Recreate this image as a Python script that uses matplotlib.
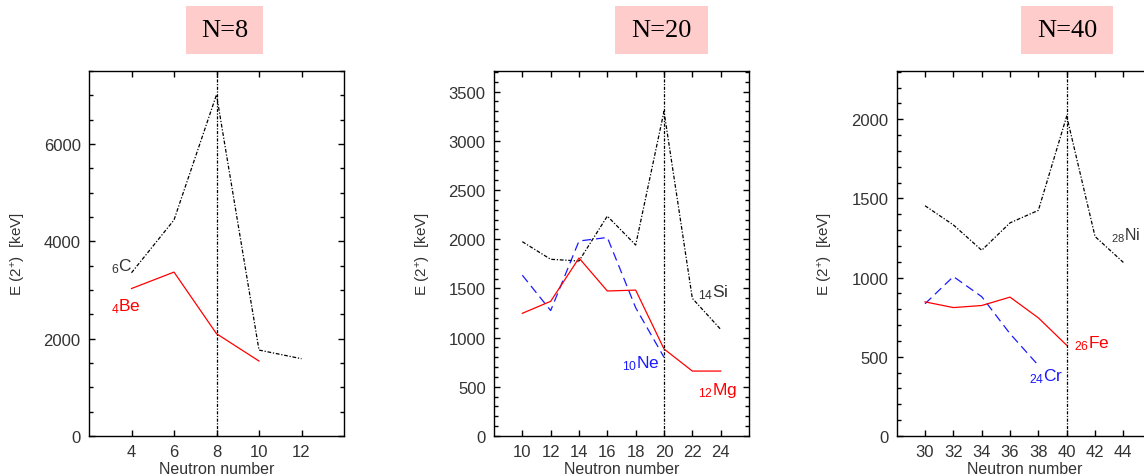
import matplotlib
matplotlib.use("Agg")
import matplotlib.pyplot as plt
from matplotlib.patches import Rectangle
from matplotlib.ticker import MultipleLocator

plt.rcParams['font.family'] = ['Liberation Sans', 'DejaVu Sans']
plt.rcParams['mathtext.fontset'] = 'custom'
plt.rcParams['mathtext.rm'] = 'Liberation Sans'
plt.rcParams['mathtext.it'] = 'Liberation Sans'
plt.rcParams['mathtext.bf'] = 'Liberation Sans'

# ---- data ----
titles = ["N=8", "N=20", "N=40"]
magic = [8, 20, 40]

# N=8 panel
n_c = [4, 6, 8, 10, 12]
e_c = [3354, 4439, 7012, 1766, 1588]
n_be = [4, 6, 8, 10]
e_be = [3030, 3368, 2102, 1540]

# N=20 panel
n_si = [10, 12, 14, 16, 18, 20, 22, 24]
e_si = [1975, 1796, 1779, 2235, 1941, 3300, 1399, 1084]
n_ne = [10, 12, 14, 16, 18, 20]
e_ne = [1634, 1275, 1982, 2018, 1304, 800]
n_mg = [10, 12, 14, 16, 18, 20, 22, 24]
e_mg = [1247, 1369, 1809, 1474, 1483, 885, 660, 660]

# N=40 panel
n_ni = [30, 32, 34, 36, 38, 40, 42, 44]
e_ni = [1454, 1333, 1173, 1346, 1425, 2020, 1260, 1096]
n_fe = [30, 32, 34, 36, 38, 40]
e_fe = [847, 811, 824, 877, 746, 573]
n_cr = [30, 32, 34, 36, 38]
e_cr = [835, 1007, 880, 646, 446]

W, H = 1144, 477
fig = plt.figure(figsize=(W / 100, H / 100), dpi=100)

def px_axes(left, right, top=72, bottom=437):
    return fig.add_axes([left / W, (H - bottom) / H, (right - left) / W, (bottom - top) / H])

ax1 = px_axes(89, 344)
ax2 = px_axes(494, 749)
ax3 = px_axes(896.7, 1151.7)

black_ls = (0, (3, 1.4, 1, 1.4))
vert_ls = (0, (2.5, 1.2, 1, 1.2))
blue_ls = (0, (7, 4))

tick_col = '#333333'
lab_fs = 12.5

def style(ax, xlim, ylim, xticks, ymajor, yminor):
    ax.set_xlim(*xlim)
    ax.set_ylim(*ylim)
    ax.set_xticks(xticks)
    ax.yaxis.set_major_locator(MultipleLocator(ymajor))
    ax.yaxis.set_minor_locator(MultipleLocator(yminor))
    ax.tick_params(axis='both', which='both', direction='in', top=True, right=True,
                   labelsize=12, labelcolor=tick_col, width=1)
    ax.tick_params(axis='both', which='major', length=4, pad=6)
    ax.tick_params(axis='both', which='minor', length=3)
    for s in ax.spines.values():
        s.set_linewidth(1)
    ax.set_xlabel("Neutron number", fontsize=11.5, color=tick_col, va='center')
    ax.xaxis.set_label_coords(0.5, -0.088)
    ax.set_ylabel(r"E (2$^{+}$)  [keV]", fontsize=11, color=tick_col, va='center')
    ax.yaxis.set_label_coords(-0.278, 0.5)

# Panel 1
ax1.plot(n_c, e_c, color='black', lw=0.9, linestyle=black_ls)
ax1.plot(n_be, e_be, color='red', lw=0.9)
ax1.axvline(magic[0], color='black', lw=0.9, linestyle=vert_ls)
style(ax1, (2, 14), (0, 7500), [4, 6, 8, 10, 12], 2000, 500)
ax1.text(3.05, 3400, r"$_{6}$C", color='#333333', fontsize=lab_fs)
ax1.text(3.05, 2580, r"$_{4}$Be", color='red', fontsize=lab_fs)

# Panel 2
ax2.plot(n_si, e_si, color='black', lw=0.9, linestyle=black_ls)
ax2.plot(n_ne, e_ne, color='#1a1aff', lw=0.9, linestyle=blue_ls)
ax2.plot(n_mg, e_mg, color='red', lw=0.9)
ax2.axvline(magic[1], color='black', lw=0.9, linestyle=vert_ls)
style(ax2, (8, 26), (0, 3710), list(range(10, 25, 2)), 500, 100)
ax2.text(22.4, 1420, r"$_{14}$Si", color='#333333', fontsize=lab_fs)
ax2.text(17.0, 700, r"$_{10}$Ne", color='#1a1aff', fontsize=lab_fs)
ax2.text(22.4, 425, r"$_{12}$Mg", color='red', fontsize=lab_fs)

# Panel 3
ax3.plot(n_ni, e_ni, color='black', lw=0.9, linestyle=black_ls)
ax3.plot(n_cr, e_cr, color='#1a1aff', lw=0.9, linestyle=blue_ls)
ax3.plot(n_fe, e_fe, color='red', lw=0.9)
ax3.axvline(magic[2], color='black', lw=0.9, linestyle=vert_ls)
style(ax3, (28, 46), (0, 2305), list(range(30, 45, 2)), 500, 100)
ax3.text(43.15, 1245, r"$_{28}$Ni", color='#333333', fontsize=lab_fs - 1)
ax3.text(40.55, 560, r"$_{26}$Fe", color='red', fontsize=lab_fs)
ax3.text(37.35, 350, r"$_{24}$Cr", color='#1a1aff', fontsize=lab_fs)

# Title boxes
boxes = [(186, 263), (615, 708), (1021, 1113)]
for (x0, x1), t in zip(boxes, titles):
    fig.patches.append(Rectangle((x0 / W, (H - 55) / H), (x1 - x0) / W, 48 / H,
                                 transform=fig.transFigure, facecolor='#ffcccc',
                                 edgecolor='none', zorder=0))
    fig.text((x0 + x1) / 2 / W, (H - 31) / H, t, ha='center', va='center',
             fontsize=19, family='Liberation Serif', color='black')

fig.savefig("out.png", dpi=100)
